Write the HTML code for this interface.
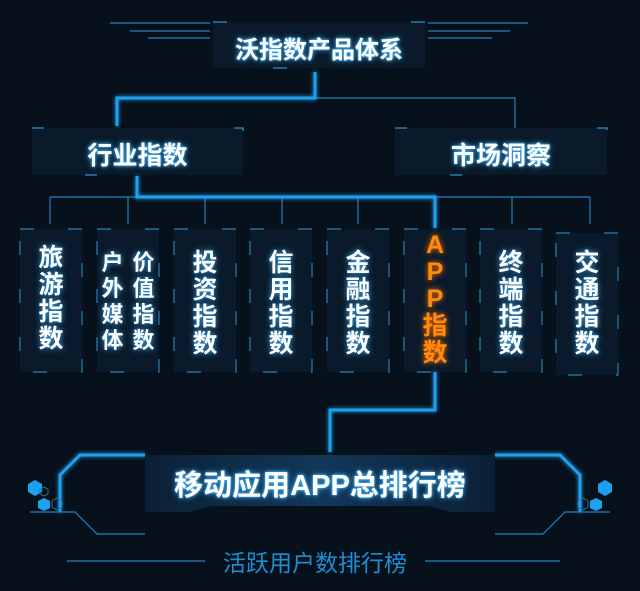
<!DOCTYPE html>
<html><head><meta charset="utf-8"><style>
body{margin:0;background:#07111c;width:640px;height:591px;overflow:hidden;position:relative;font-family:"Liberation Sans","Noto Sans CJK SC",sans-serif}
.t{position:absolute;color:#fff;font-weight:bold;text-shadow:0 0 6px #3ab0ff,0 0 2px #6cf;text-align:center}
.v{position:absolute;color:#fff;font-weight:bold;font-size:25px;line-height:27px;text-shadow:0 0 6px #3ab0ff;text-align:center}
</style></head><body>
<svg width="640" height="591" style="position:absolute;left:0;top:0">
<defs><linearGradient id="g" x1="0" x2="1"><stop offset="0" stop-color="#0b2035"/><stop offset=".5" stop-color="#12375a"/><stop offset="1" stop-color="#0b2035"/></linearGradient></defs>
<g stroke="#2a7fb8" stroke-width="1.2">
<line x1="110" y1="23" x2="210" y2="23"/><line x1="130" y1="31" x2="210" y2="31"/><line x1="148" y1="38" x2="210" y2="38"/>
<line x1="428" y1="23" x2="528" y2="23"/><line x1="428" y1="31" x2="510" y2="31"/><line x1="428" y1="38" x2="492" y2="38"/>
<polyline fill="none" points="315,98 515,98 515,128"/>
<line x1="50" y1="197" x2="590" y2="197"/>
<g><line x1="50" y1="197" x2="50" y2="224"/><line x1="128" y1="197" x2="128" y2="224"/><line x1="205" y1="197" x2="205" y2="224"/><line x1="282" y1="197" x2="282" y2="224"/><line x1="358" y1="197" x2="358" y2="224"/><line x1="512" y1="197" x2="512" y2="224"/><line x1="590" y1="197" x2="590" y2="224"/></g>
<line x1="67" y1="561" x2="205" y2="561"/><line x1="425" y1="561" x2="560" y2="561"/>
</g>
<g fill="#0a1a2a">
<rect x="213" y="22" width="212" height="46"/><rect x="32" y="128" width="211" height="47"/><rect x="395" y="128" width="212" height="47"/>
<rect x="20" y="229" width="62" height="143"/><rect x="97" y="229" width="62" height="143"/><rect x="174" y="229" width="62" height="143"/><rect x="250" y="229" width="62" height="143"/><rect x="327" y="229" width="62" height="143"/><rect x="404" y="229" width="62" height="143"/><rect x="480" y="229" width="62" height="143"/><rect x="556" y="233" width="62" height="142"/>
</g>
<g fill="none" stroke="#2d8fd0" stroke-width="1.3">
<rect x="213" y="22" width="212" height="46" stroke-dasharray="14 184 0 0"/>
<rect x="32" y="128" width="211" height="47" stroke-dasharray="12 190"/>
<rect x="395" y="128" width="212" height="47" stroke-dasharray="12 190"/>
</g>
<g fill="none" stroke="#2a7fb8" stroke-width="1.2" stroke-dasharray="14 34">
<rect x="20" y="229" width="62" height="143"/><rect x="97" y="229" width="62" height="143"/><rect x="174" y="229" width="62" height="143"/><rect x="250" y="229" width="62" height="143"/><rect x="327" y="229" width="62" height="143"/><rect x="404" y="229" width="62" height="143"/><rect x="480" y="229" width="62" height="143"/><rect x="556" y="233" width="62" height="142"/>
</g>
<g fill="none" stroke="#1ea0f0" stroke-width="3" style="filter:drop-shadow(0 0 2px #1ea0f0)">
<polyline points="315,72 315,98 117,98 117,126"/>
<polyline points="137,176 137,197 435,197 435,228"/>
<polyline points="435,372 435,410 330,410 330,452"/>
<polyline points="145,455 80,455 60,475 60,512"/>
<polyline points="495,455 560,455 580,475 580,512"/>
</g>
<polygon points="145,455 495,455 495,512 450,512 430,506 210,506 190,512 145,512" fill="url(#g)"/>
<g fill="none" stroke="#2a7fb8" stroke-width="1.2">
<polyline points="30,512 75,512 97,534 145,534"/><polyline points="610,512 565,512 543,534 495,534"/>
</g>
<g fill="#1ea0f0"><polygon points="35,480 42,484 42,492 35,496 28,492 28,484"/><polygon points="44,498 50,501 50,508 44,511 38,508 38,501"/>
<polygon points="605,480 612,484 612,492 605,496 598,492 598,484"/><polygon points="596,498 602,501 602,508 596,511 590,508 590,501"/></g>
<g fill="none" stroke="#3a6a8a"><polygon points="44,487 48,489 48,494 44,496 40,494 40,489"/><polygon points="57,498 62,501 62,507 57,510 52,507 52,501"/><polygon points="583,498 588,501 588,507 583,510 578,507 578,501"/></g>
</svg>
<div class="t" style="left:213px;top:30px;width:212px;font-size:24px">沃指数产品体系</div>
<div class="t" style="left:32px;top:136px;width:211px;font-size:25px">行业指数</div>
<div class="t" style="left:395px;top:136px;width:212px;font-size:25px">市场洞察</div>
<div class="v" style="left:20px;top:245px;width:62px">旅<br>游<br>指<br>数</div>
<div class="v" style="left:97px;top:250px;width:31px;font-size:22px;line-height:26px">户<br>外<br>媒<br>体</div>
<div class="v" style="left:128px;top:250px;width:31px;font-size:22px;line-height:26px">价<br>值<br>指<br>数</div>
<div class="v" style="left:174px;top:250px;width:62px">投<br>资<br>指<br>数</div>
<div class="v" style="left:250px;top:250px;width:62px">信<br>用<br>指<br>数</div>
<div class="v" style="left:327px;top:250px;width:62px">金<br>融<br>指<br>数</div>
<div class="v" style="left:404px;top:232px;width:62px;color:#ff8a10;text-shadow:0 0 6px #ff7000;line-height:27px">A<br>P<br>P<br>指<br>数</div>
<div class="v" style="left:480px;top:250px;width:62px">终<br>端<br>指<br>数</div>
<div class="v" style="left:556px;top:250px;width:62px">交<br>通<br>指<br>数</div>
<div class="t" style="left:100px;top:462px;width:440px;font-size:29px">移动应用APP总排行榜</div>
<div style="position:absolute;left:205px;top:544px;width:220px;text-align:center;color:#1a90d4;font-size:23px">活跃用户数排行榜</div>
</body></html>
